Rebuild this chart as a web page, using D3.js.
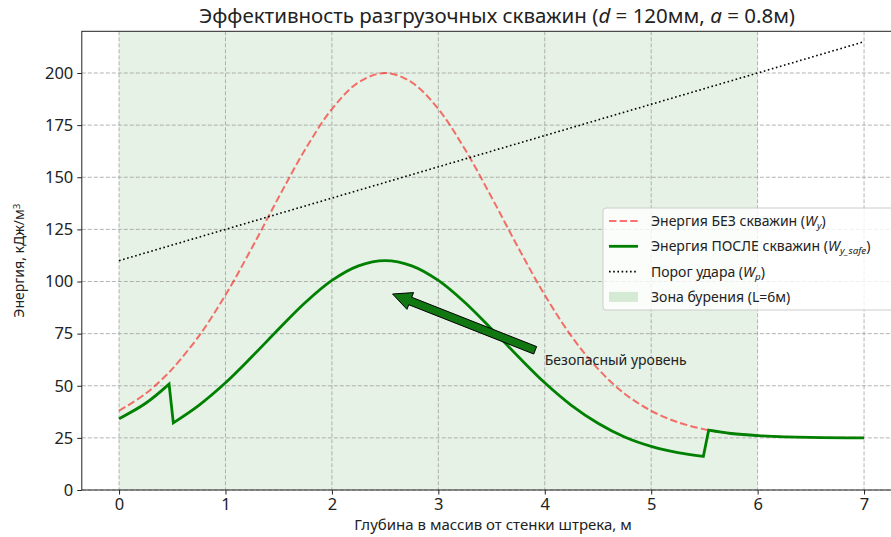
<!DOCTYPE html>
<html>
<head>
<meta charset="utf-8">
<script src="https://cdn.jsdelivr.net/npm/d3@7"></script>
<style>
  body { margin: 0; background: #fff; }
  text { font-family: "Noto Sans", sans-serif; fill: #222; }
</style>
</head>
<body>
<svg id="chart"></svg>
<script>
const width = 891;
const height = 537;

// depth into the rock mass, m
const depth = [0, 0.25, 0.47, 0.51, 0.75, 1, 1.25, 1.5, 1.75, 2, 2.25, 2.5, 2.75, 3,
    3.25, 3.5, 3.75, 4, 4.25, 4.5, 4.75, 5, 5.25, 5.49, 5.54, 5.75, 6, 6.5, 7];
// energy without holes (W_y)
const energyBefore = [38, 46.2, 56.4, 58.6, 73.8, 93.5, 116.3, 140.4, 163.4, 182.7, 195.5, 200, 195.5, 182.7,
    163.4, 140.4, 116.3, 93.5, 73.8, 58.1, 46.2, 38, 32.5, 29.2, 28.7, 27.1, 26.1, 25.2, 25];
// energy after drilling (W_y_safe)
const energyAfter = [34.2, 41.6, 50.8, 32.2, 40.6, 51.4, 64, 77.2, 89.9, 100.5, 107.5, 110, 107.5, 100.5,
    89.9, 77.2, 64, 51.4, 40.6, 32, 25.4, 20.9, 17.9, 16.1, 28.7, 27.1, 26.1, 25.2, 25];
// indices where the green curve jumps (hole zone edges)
const jumps = [2, 23];
// burst threshold (W_p)
const thresholdDepth = [0, 7];
const threshold = [110, 215];
// drilling zone
const zone = [0, 6];

const xTicks = [0, 1, 2, 3, 4, 5, 6, 7];
const yTicks = [0, 25, 50, 75, 100, 125, 150, 175, 200];

const arrowFrom = [3.91, 67];
const arrowTo = [2.57, 94];
const noteAt = [4.0, 60];

const svg = d3.select("#chart")
    .attr("width", width)
    .attr("height", height);

const plotLeft = 81.8, plotRight = 901.3, plotTop = 31.3, plotBottom = 490;

const x = d3.scaleLinear().domain([-0.35, 7.35]).range([plotLeft, plotRight]);
const y = d3.scaleLinear().domain([0, 220]).range([plotBottom, plotTop]);

// drilling zone
svg.append("rect")
    .attr("x", x(zone[0]))
    .attr("y", plotTop)
    .attr("width", x(zone[1]) - x(zone[0]))
    .attr("height", plotBottom - plotTop)
    .attr("fill", "green")
    .attr("fill-opacity", 0.1);

// grid
const grid = svg.append("g")
    .attr("stroke", "#a0a0a0")
    .attr("stroke-width", 0.8)
    .attr("stroke-dasharray", "4,2");
grid.selectAll(".gx").data(xTicks).enter().append("line")
    .attr("x1", d => x(d)).attr("x2", d => x(d))
    .attr("y1", plotTop).attr("y2", plotBottom);
grid.selectAll(".gy").data(yTicks).enter().append("line")
    .attr("x1", plotLeft).attr("x2", plotRight)
    .attr("y1", d => y(d)).attr("y2", d => y(d));

const line = d3.line()
    .x(d => x(d[0]))
    .y(d => y(d[1]))
    .curve(d3.curveCatmullRom.alpha(0.5));

svg.append("path")
    .attr("d", line(depth.map((d, i) => [d, energyBefore[i]])))
    .attr("fill", "none")
    .attr("stroke", "red")
    .attr("stroke-opacity", 0.55)
    .attr("stroke-width", 2)
    .attr("stroke-dasharray", "7.4,3.2");

// green curve: smooth pieces joined by straight jumps
const pts = depth.map((d, i) => [d, energyAfter[i]]);
const cuts = [0, ...jumps.map(j => j + 1), pts.length];
let greenD = "";
for (let k = 0; k < cuts.length - 1; k++) {
    const seg = line(pts.slice(cuts[k], cuts[k + 1]));
    greenD += k === 0 ? seg : "L" + seg.slice(1);
}
svg.append("path")
    .attr("d", greenD)
    .attr("fill", "none")
    .attr("stroke", "green")
    .attr("stroke-width", 2.8)
    .attr("stroke-linejoin", "miter");

svg.append("path")
    .attr("d", d3.line().x(d => x(d[0])).y(d => y(d[1]))(thresholdDepth.map((d, i) => [d, threshold[i]])))
    .attr("fill", "none")
    .attr("stroke", "black")
    .attr("stroke-width", 1.6)
    .attr("stroke-dasharray", "1.6,2.6");

// annotation arrow
function arrowPath(x0, y0, x1, y1, w, hw, hl) {
    const dx = x1 - x0, dy = y1 - y0, L = Math.hypot(dx, dy);
    const ux = dx / L, uy = dy / L, nx = -uy, ny = ux;
    const bx = x1 - ux * hl, by = y1 - uy * hl;
    const p = [
        [x0 + nx * w / 2, y0 + ny * w / 2],
        [bx + nx * w / 2, by + ny * w / 2],
        [bx + nx * hw / 2, by + ny * hw / 2],
        [x1, y1],
        [bx - nx * hw / 2, by - ny * hw / 2],
        [bx - nx * w / 2, by - ny * w / 2],
        [x0 - nx * w / 2, y0 - ny * w / 2]
    ];
    return "M" + p.map(q => q.join(",")).join("L") + "Z";
}
svg.append("path")
    .attr("d", arrowPath(x(arrowFrom[0]), y(arrowFrom[1]), x(arrowTo[0]), y(arrowTo[1]), 8, 18, 19))
    .attr("fill", "#117711")
    .attr("stroke", "black")
    .attr("stroke-width", 1);

svg.append("text")
    .attr("x", x(noteAt[0]))
    .attr("y", y(noteAt[1]))
    .attr("font-size", 14)
    .text("Безопасный уровень");

// frame
svg.append("rect")
    .attr("x", plotLeft).attr("y", plotTop)
    .attr("width", plotRight - plotLeft).attr("height", plotBottom - plotTop)
    .attr("fill", "none").attr("stroke", "#222").attr("stroke-width", 1);

// axes
const xAxis = svg.append("g")
    .attr("transform", `translate(0,${plotBottom})`)
    .call(d3.axisBottom(x).tickValues(xTicks).tickSize(4.5).tickPadding(4));
const yAxis = svg.append("g")
    .attr("transform", `translate(${plotLeft},0)`)
    .call(d3.axisLeft(y).tickValues(yTicks).tickSize(4.5).tickPadding(4));
[xAxis, yAxis].forEach(a => {
    a.select(".domain").remove();
    a.selectAll("line").attr("stroke", "#222");
    a.selectAll("text").attr("font-size", 16.5).attr("font-family", "Noto Sans").attr("fill", "#222");
});

// rich text helper: parts [text, kind]
function richText(sel, parts, size) {
    parts.forEach(([t, k]) => {
        const ts = sel.append("tspan").text(t);
        if (k.includes("i")) ts.attr("font-style", "italic");
        if (k.includes("sub")) ts.attr("baseline-shift", "-25%").attr("font-size", size * 0.7);
        if (k.includes("sup")) ts.attr("baseline-shift", "40%").attr("font-size", size * 0.7);
    });
    return sel;
}

// title
richText(svg.append("text")
    .attr("x", 497)
    .attr("y", 23)
    .attr("text-anchor", "middle")
    .attr("font-size", 20.5),
    [["Эффективность разгрузочных скважин (", ""], ["d", "i"], [" = 120мм, ", ""], ["a", "i"], [" = 0.8м)", ""]], 20.5);

svg.append("text")
    .attr("x", 493)
    .attr("y", 530)
    .attr("text-anchor", "middle")
    .attr("font-size", 15)
    .text("Глубина в массив от стенки штрека, м");

richText(svg.append("text")
    .attr("transform", `translate(24,${(plotTop + plotBottom) / 2}) rotate(-90)`)
    .attr("text-anchor", "middle")
    .attr("font-size", 14),
    [["Энергия, кДж/м", ""], ["3", "sup"]], 14);

// legend
const lg = svg.append("g").attr("transform", "translate(603,208)");
lg.append("rect")
    .attr("width", 300).attr("height", 102).attr("rx", 3)
    .attr("fill", "white").attr("fill-opacity", 0.8)
    .attr("stroke", "#cccccc");
const rows = [
    {kind: "dash", parts: [["Энергия БЕЗ скважин (", ""], ["W", "i"], ["y", "i sub"], [")", ""]]},
    {kind: "solid", parts: [["Энергия ПОСЛЕ скважин (", ""], ["W", "i"], ["y_safe", "i sub"], [")", ""]]},
    {kind: "dot", parts: [["Порог удара (", ""], ["W", "i"], ["p", "i sub"], [")", ""]]},
    {kind: "patch", parts: [["Зона бурения (L=6м)", ""]]}
];
rows.forEach((r, i) => {
    const cy = 13 + i * 25.3;
    if (r.kind === "patch") {
        lg.append("rect").attr("x", 6).attr("y", cy - 5).attr("width", 29).attr("height", 10)
            .attr("fill", "green").attr("fill-opacity", 0.15);
    } else {
        const l = lg.append("line").attr("x1", 6).attr("x2", 35).attr("y1", cy).attr("y2", cy).attr("fill", "none");
        if (r.kind === "dash") l.attr("stroke", "red").attr("stroke-opacity", 0.55).attr("stroke-width", 2).attr("stroke-dasharray", "7.4,3.2");
        if (r.kind === "solid") l.attr("stroke", "green").attr("stroke-width", 2.8);
        if (r.kind === "dot") l.attr("stroke", "black").attr("stroke-width", 1.6).attr("stroke-dasharray", "1.6,2.6");
    }
    richText(lg.append("text").attr("x", 48).attr("y", cy + 5).attr("font-size", 14), r.parts, 14);
});
</script>
</body>
</html>
